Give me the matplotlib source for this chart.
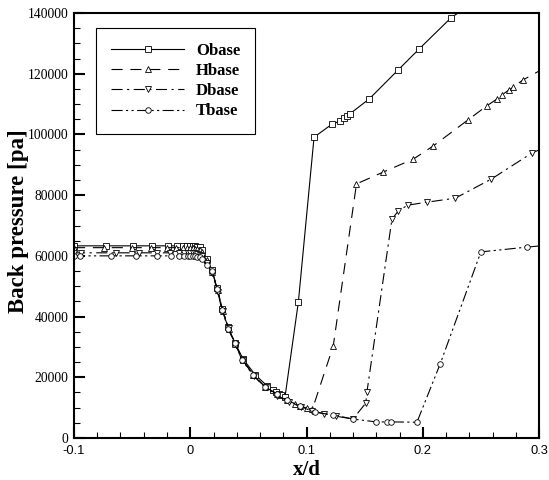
import matplotlib
matplotlib.use("Agg")
import matplotlib.pyplot as plt
from matplotlib.ticker import MultipleLocator, FixedLocator, FixedFormatter

# ---- data ----
obase_x = [-0.1, -0.0725, -0.049, -0.033, -0.019, -0.011, -0.006, -0.003, 0.0, 0.002, 0.004, 0.006, 0.008, 0.01,
           0.014, 0.0187, 0.023, 0.027, 0.0325, 0.0385, 0.0455, 0.0557, 0.066, 0.071, 0.074, 0.076, 0.078, 0.0815,
           0.093, 0.1065, 0.122, 0.129, 0.132, 0.135, 0.137, 0.154, 0.179, 0.197, 0.224, 0.26]
obase_y = [63300, 63300, 63300, 63300, 63300, 63300, 63300, 63300, 63300, 63200, 63100, 63000, 62800, 62000,
           59000, 55300, 49400, 42500, 36600, 31300, 26000, 20900, 17200, 15800, 15000, 14500, 14100, 13500,
           44800, 99100, 103400, 104400, 105400, 106000, 106700, 111700, 121300, 128200, 138300, 148000]

hbase_x = [-0.1, -0.074, -0.05, -0.034, -0.02, -0.012, -0.006, -0.003, 0.0, 0.002, 0.004, 0.006, 0.008, 0.01,
           0.014, 0.019, 0.0235, 0.028, 0.033, 0.0385, 0.045, 0.054, 0.064, 0.0745, 0.083, 0.09, 0.094, 0.1, 0.105,
           0.123, 0.143, 0.166, 0.192, 0.209, 0.239, 0.255, 0.264, 0.268, 0.274, 0.278, 0.286, 0.31]
hbase_y = [62700, 62700, 62700, 62700, 62700, 62700, 62700, 62700, 62600, 62500, 62400, 62200, 62000, 61200,
           58500, 54800, 48800, 42000, 36000, 31000, 25800, 20800, 16900, 14600, 12500, 11300, 10600, 9900, 9400,
           30300, 83700, 87600, 91900, 96200, 104800, 109400, 111700, 113000, 114600, 115600, 117900, 123000]

dbase_x = [-0.1, -0.094, -0.064, -0.044, -0.029, -0.017, -0.01, -0.005, -0.002, 0.0, 0.002, 0.004, 0.006, 0.008,
           0.01, 0.014, 0.019, 0.024, 0.028, 0.033, 0.039, 0.045, 0.055, 0.065, 0.075, 0.085, 0.095, 0.105, 0.115,
           0.125, 0.14, 0.151, 0.152, 0.1735, 0.179, 0.187, 0.204, 0.228, 0.259, 0.294, 0.31]
dbase_y = [61000, 61000, 61000, 61000, 61000, 61000, 61000, 61000, 61000, 61000, 60900, 60800, 60600, 60400,
           59800, 57500, 54500, 48000, 42000, 36200, 30800, 25700, 20500, 16700, 14000, 11900, 10300, 9000, 8000,
           7200, 6260, 11500, 15200, 72100, 74800, 76700, 77700, 79000, 85300, 93900, 96500]

tbase_x = [-0.1, -0.095, -0.068, -0.047, -0.029, -0.0165, -0.01, -0.005, -0.002, 0.0, 0.002, 0.004, 0.006, 0.008,
           0.01, 0.014, 0.0187, 0.023, 0.0275, 0.0325, 0.0385, 0.0445, 0.054, 0.064, 0.0745, 0.083, 0.094, 0.107,
           0.123, 0.14, 0.160, 0.169, 0.173, 0.195, 0.215, 0.250, 0.290, 0.31]
tbase_y = [60000, 60000, 60000, 60000, 60000, 60000, 60000, 60000, 60000, 60000, 59900, 59800, 59700, 59500,
           59000, 57000, 55000, 49000, 42200, 36000, 31200, 25700, 20700, 16800, 14500, 12400, 10500, 8500,
           7600, 6250, 5300, 5300, 5300, 5200, 24400, 61300, 62900, 63600]

x_ticks = [-0.1, 0.0, 0.1, 0.2, 0.3]
x_tick_labels = ["-0.1", "0", "0.1", "0.2", "0.3"]
y_ticks = [0, 20000, 40000, 60000, 80000, 100000, 120000, 140000]
y_tick_labels = ["0", "20000", "40000", "60000", "80000", "100000", "120000", "140000"]

# ---- figure ----
fig = plt.figure(figsize=(5.49, 4.8), dpi=100)
ax = fig.add_axes([74/549, 1-438/480, (539-74)/549, (438-13)/480])

lw = 0.8
ms = 4
common = dict(color="black", lw=lw, ms=ms, mfc="white", mec="black", mew=0.6)
ax.plot(obase_x, obase_y, ls="-", marker="s", label="Obase", **common)
ax.plot(hbase_x, hbase_y, ls=(0, (10, 7)), marker="^", label="Hbase", **common)
ax.plot(dbase_x, dbase_y, ls=(0, (10, 4, 2, 4)), marker="v", label="Dbase", **common)
ax.plot(tbase_x, tbase_y, ls=(0, (10, 3, 2, 3, 2, 3)), marker="o", label="Tbase", **common)

ax.set_xlim(-0.1, 0.3)
ax.set_ylim(0, 140000)

ax.xaxis.set_major_locator(FixedLocator(x_ticks))
ax.xaxis.set_major_formatter(FixedFormatter(x_tick_labels))
ax.xaxis.set_minor_locator(MultipleLocator(0.02))
ax.yaxis.set_major_locator(FixedLocator(y_ticks))
ax.yaxis.set_major_formatter(FixedFormatter(y_tick_labels))
ax.yaxis.set_minor_locator(MultipleLocator(5000))

ax.tick_params(which="both", direction="in", top=False, right=False)
ax.tick_params(which="major", length=8, width=1.5)
ax.tick_params(axis="x", which="major", labelsize=9.3, pad=5)
ax.tick_params(axis="y", which="major", labelsize=9.8, pad=4)
ax.tick_params(which="minor", length=4.5, width=0.8)
for lab in ax.get_xticklabels():
    lab.set_fontfamily("Liberation Sans")
for lab in ax.get_yticklabels():
    lab.set_fontfamily("Liberation Serif")
for s in ax.spines.values():
    s.set_linewidth(1.5)

ax.set_xlabel("x/d", fontfamily="Liberation Serif", fontweight="bold", fontsize=15, labelpad=2)
ax.set_ylabel("Back pressure [pa]", fontfamily="Liberation Serif", fontweight="bold", fontsize=16.5)
ax.yaxis.set_label_coords((29-74)/465, 0.51)

leg = ax.legend(loc="upper left", bbox_to_anchor=(0.047, 0.965), borderaxespad=0,
                prop={"family": "Liberation Serif", "weight": "bold", "size": 12},
                handlelength=4.4, handletextpad=0.7, labelspacing=0.25, borderpad=0.9,
                numpoints=1, fancybox=False, framealpha=1, edgecolor="black")
leg.get_frame().set_linewidth(0.8)

fig.savefig("out.png", dpi=100)
